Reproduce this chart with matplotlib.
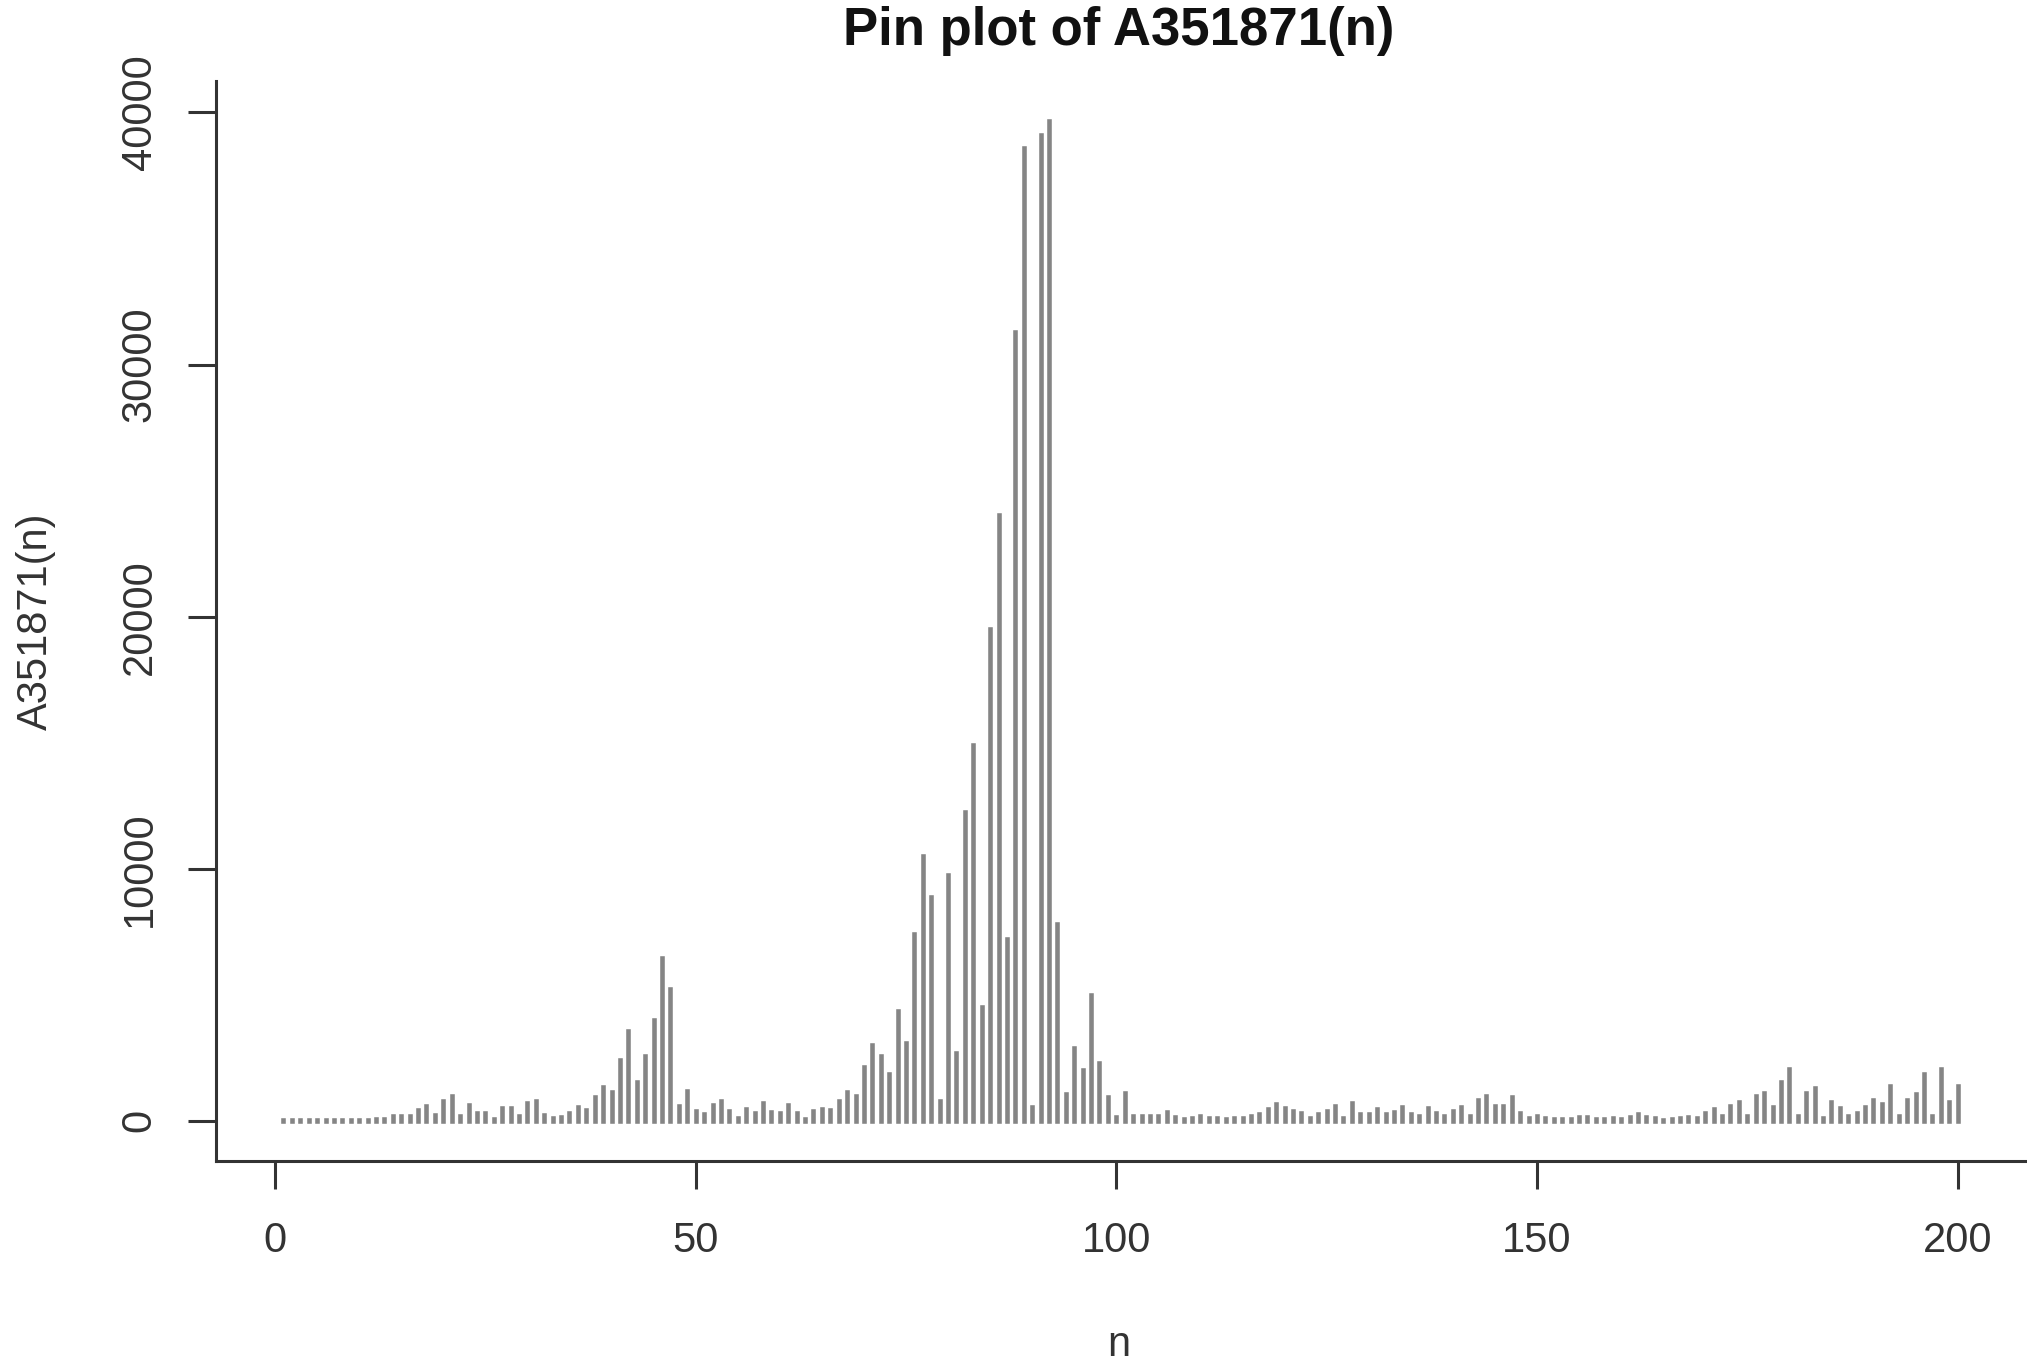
import matplotlib
matplotlib.use('Agg')
import matplotlib.pyplot as plt

# A351871(n) for n = 1..200
a_1_50 = [20, 20, 20, 22, 24, 26, 28, 30, 32, 35,
          45, 60, 90, 200, 200, 200, 450, 600, 250, 800,
          1000, 200, 650, 330, 330, 70, 500, 520, 200, 700,
          800, 250, 130, 170, 320, 560, 430, 950, 1350, 1150,
          2430, 3550, 1550, 2570, 4000, 6470, 5250, 600, 1200, 400]
a_51_100 = [260, 630, 800, 400, 100, 460, 330, 730, 370, 330,
            630, 330, 70, 400, 470, 430, 780, 1150, 1000, 2140,
            3000, 2560, 1850, 4350, 3090, 7400, 10490, 8880, 800, 9740,
            2690, 12240, 14930, 4520, 19500, 24020, 7210, 31280, 38600, 540,
            39090, 39680, 7800, 1080, 2880, 2020, 4980, 2290, 950, 150]
a_101_150 = [1100, 200, 200, 200, 200, 370, 160, 70, 130, 200,
             130, 100, 70, 100, 130, 200, 260, 460, 660, 530,
             400, 330, 100, 260, 400, 600, 130, 730, 260, 260,
             460, 260, 370, 550, 260, 200, 500, 330, 200, 400,
             550, 200, 820, 990, 600, 600, 950, 330, 100, 200]
a_151_200 = [100, 70, 70, 70, 160, 160, 70, 70, 100, 70,
             160, 260, 160, 130, 40, 70, 100, 160, 130, 330,
             460, 200, 600, 770, 200, 990, 1120, 550, 1560, 2050,
             200, 1120, 1290, 130, 770, 500, 200, 330, 550, 820,
             660, 1390, 200, 820, 1060, 1850, 200, 2050, 770, 1390]

values = a_1_50 + a_51_100 + a_101_150 + a_151_200
n = list(range(1, len(values) + 1))

x_ticks = [0, 50, 100, 150, 200]
y_ticks = [0, 10000, 20000, 30000, 40000]

plt.rcParams['font.family'] = ['Liberation Sans', 'DejaVu Sans']

fig = plt.figure(figsize=(20.27, 13.65), dpi=100)
ax = fig.add_axes([0.1068, 0.1495, 0.892, 0.7915])

# projecting caps so near-zero values still show a small dash, like R
ax.vlines(n, 0, values, colors='#858585', linewidth=3.3, capstyle='projecting')

# R style range: 4% padding each side
xr = max(n) - min(n)
ax.set_xlim(min(n) - 0.04 * xr, max(n) + 0.04 * xr)
yr = max(values)
ax.set_ylim(-0.04 * yr, yr * 1.04)

ax.spines['top'].set_visible(False)
ax.spines['right'].set_visible(False)
for s in ['left', 'bottom']:
    ax.spines[s].set_linewidth(2.2)
    ax.spines[s].set_color('#333333')

ax.set_xticks(x_ticks)
ax.set_yticks(y_ticks)
ax.tick_params(axis='both', length=20, width=2.2, color='#333333',
               labelsize=30, labelcolor='#333333')
ax.tick_params(axis='x', pad=23)
ax.tick_params(axis='y', pad=21)
for lab in ax.get_yticklabels():
    lab.set_rotation(90)
    lab.set_va('center')

fig.text(0.552, 0.977, 'Pin plot of A351871(n)', ha='center', va='center',
         fontsize=38, fontweight='bold', color='#111111')
fig.text(0.552, 0.015, 'n', ha='center', va='center', fontsize=30, color='#333333')
fig.text(0.0175, 0.545, 'A351871(n)', ha='center', va='center', rotation=90,
         fontsize=30, color='#333333')

fig.savefig('out.png', dpi=100)
